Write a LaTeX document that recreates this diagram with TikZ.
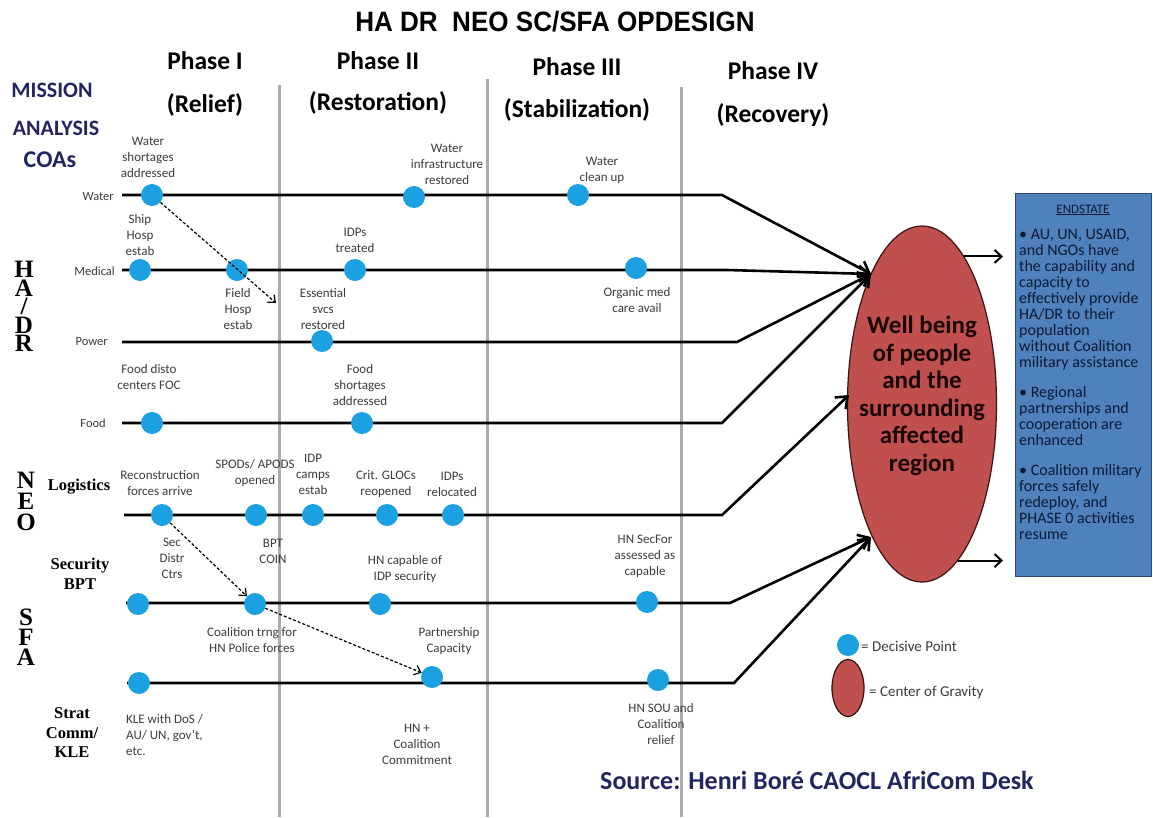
\documentclass[tikz,border=0pt]{standalone}
\usepackage{fontspec}
\usepackage{graphicx}
\setmainfont{Carlito}
\newfontfamily\timesfont{Liberation Serif}
\newfontfamily\arialfont{Liberation Sans}
\usetikzlibrary{arrows.meta,shapes.geometric}
\definecolor{dpblue}{HTML}{1BA1E2}
\definecolor{navy}{HTML}{222660}
\definecolor{cogred}{HTML}{C0504D}
\definecolor{cogedge}{HTML}{3A1212}
\definecolor{cogtext}{HTML}{1A0505}
\definecolor{esblue}{HTML}{4F81BD}
\definecolor{esedge}{HTML}{2C4A70}
\definecolor{estext}{HTML}{0E1A33}
\definecolor{phasegray}{HTML}{ABABAB}
\definecolor{lblgray}{HTML}{3C3C3C}

\begin{document}
\begin{tikzpicture}[x=1pt,y=-1pt,
  dp/.style={circle,fill=dpblue,minimum size=22pt,inner sep=0pt},
  lbl/.style={font=\fontsize{13}{16}\selectfont,text=lblgray,align=center,inner sep=0pt},
  rowname/.style={font=\fontsize{12.5}{15}\selectfont,text=lblgray,anchor=east,inner sep=0pt},
  groupname/.style={font=\timesfont\bfseries\fontsize{16.5}{19.5}\selectfont,align=center,inner sep=0pt},
  stack/.style={font=\timesfont\bfseries\fontsize{25}{18.5}\selectfont,align=center,inner sep=0pt},
  phasehead/.style={font=\bfseries\fontsize{25.5}{30}\selectfont,inner sep=0pt},
  navyhead/.style={font=\bfseries\fontsize{22}{26}\selectfont,text=navy,inner sep=0pt},
  phaseline/.style={draw=phasegray,line width=3pt},
  rowline/.style={line width=2.6pt,line join=miter,-{Straight Barb[length=10pt,width=16pt]}},
  link/.style={dash pattern=on 3pt off 2pt,line width=1.2pt,-{Straight Barb[length=6pt,width=10pt]}},
  outarrow/.style={line width=2pt,-{Straight Barb[length=7pt,width=13pt]}},
  cogshape/.style={ellipse,draw=cogedge,line width=1.2pt,fill=cogred,inner sep=0pt},
]
\fill[white] (0,0) rectangle (1153,817);
\useasboundingbox (0,0) rectangle (1153,817);

% phase separators
\draw[phaseline] (279,85) -- (279,817);
\draw[phaseline] (487,79) -- (487,817);
\draw[phaseline] (681,87) -- (681,817);

% title and headings
\node[font=\arialfont\bfseries\fontsize{28}{32}\selectfont] (title) at (555,22) {\scalebox{0.93}[1]{HA DR~~NEO SC/SFA OPDESIGN}};
\node[phasehead] (p1) at (205,61) {Phase I};
\node[phasehead] (p1s) at (205,105) {(Relief)};
\node[phasehead] (p2) at (378,61) {Phase II};
\node[phasehead] (p2s) at (378,103) {(Restoration)};
\node[phasehead] (p3) at (577,67) {Phase III};
\node[phasehead] (p3s) at (577,110) {(Stabilization)};
\node[phasehead] (p4) at (773,71) {Phase IV};
\node[phasehead] (p4s) at (773,115) {(Recovery)};

\node[navyhead] (mis) at (52,90) {MISSION};
\node[navyhead] (ana) at (56,128) {ANALYSIS};
\node[navyhead,font=\bfseries\fontsize{24}{28}\selectfont] (coa) at (50,160) {COAs};

% line-of-effort groups
\node[stack] (hadr) at (24,306.5) {H\\A\\/\\D\\R};
\node[stack,font=\timesfont\bfseries\fontsize{25}{21}\selectfont] (neo) at (26,501) {N\\E\\O};
\node[stack,font=\timesfont\bfseries\fontsize{25}{20}\selectfont] (sfa) at (26,637) {S\\F\\A};
\node[groupname] (glog) at (79,487) {Logistics};
\node[groupname] (gsec) at (80,574) {Security\\BPT};
\node[groupname] (gstr) at (72,733) {Strat\\Comm/\\KLE};

\node[rowname] (lwater) at (114,197) {Water};
\node[rowname] (lmed) at (115,271) {Medical};
\node[rowname] (lpow) at (108,342) {Power};
\node[rowname] (lfood) at (106,423) {Food};

% centre of gravity
\node[cogshape,minimum width=149pt,minimum height=356pt] (cog) at (922,404) {};
\node[font=\bfseries\fontsize{25}{27.5}\selectfont,text=cogtext,align=center] (cogtxt) at (922,396)
  {Well being\\of people\\and the\\surrounding\\affected\\region};

% row ends
\coordinate (wS) at (122,195); \coordinate (wK) at (722,195);
\coordinate (mS) at (122,270); \coordinate (mK) at (727,270);
\coordinate (pS) at (122,342); \coordinate (pK) at (737,342);
\coordinate (fS) at (122,423); \coordinate (fK) at (722,423);
\coordinate (lS) at (124,515); \coordinate (lK) at (722,515);
\coordinate (sS) at (126,603); \coordinate (sK) at (730,603);
\coordinate (kS) at (127,683); \coordinate (kK) at (734,683);
\coordinate (tipA) at (871,274);
\coordinate (tipB) at (849,395);
\coordinate (tipC) at (871,537);

\draw[rowline] (wS) -- (wK) -- (tipA);
\draw[rowline] (mS) -- (mK) -- (tipA);
\draw[rowline] (pS) -- (pK) -- (tipA);
\draw[rowline] (fS) -- (fK) -- (tipA);
\draw[rowline] (lS) -- (lK) -- (tipB);
\draw[rowline] (sS) -- (sK) -- (tipC);
\draw[rowline] (kS) -- (kK) -- (tipC);

% decisive points
\node[dp] (wa1) at (152,195) {};
\node[dp] (wa2) at (414,197) {};
\node[dp] (wa3) at (578,195) {};
\node[dp] (me1) at (140,270) {};
\node[dp] (me2) at (237,270) {};
\node[dp] (me3) at (355,270) {};
\node[dp] (me4) at (636,268) {};
\node[dp] (po1) at (322,341) {};
\node[dp] (fo1) at (152,423) {};
\node[dp] (fo2) at (362,423) {};
\node[dp] (lo1) at (162,515) {};
\node[dp] (lo2) at (256,515) {};
\node[dp] (lo3) at (313,515) {};
\node[dp] (lo4) at (387,515) {};
\node[dp] (lo5) at (453,515) {};
\node[dp] (se1) at (138,604) {};
\node[dp] (se2) at (255,604) {};
\node[dp] (se3) at (380,604) {};
\node[dp] (se4) at (647,602) {};
\node[dp] (st1) at (139,683) {};
\node[dp] (st2) at (432,677) {};
\node[dp] (st3) at (658,680) {};

% sequencing links
\coordinate (essentialEnd) at (276,303);
\draw[link] (wa1) -- (essentialEnd);
\draw[link] (lo1) -- (se2);
\draw[link] (se2) -- (st2);

% decisive point labels
\node[lbl] (t-wsa) at (148,157) {Water\\shortages\\addressed};
\node[lbl] (t-shs) at (140,235) {Ship\\Hosp\\estab};
\node[lbl] (t-wir) at (447,164) {Water\\infrastructure\\restored};
\node[lbl] (t-wcu) at (602,170) {Water\\clean up};
\node[lbl] (t-idt) at (355,240) {IDPs\\treated};
\node[lbl] (t-fhe) at (238,309) {Field\\Hosp\\estab};
\node[lbl] (t-esr) at (323,309) {Essential\\svcs\\restored};
\node[lbl] (t-omc) at (637,300) {Organic med\\care avail};
\node[lbl] (t-fdc) at (149,377) {Food disto\\centers FOC};
\node[lbl] (t-fsa) at (360,385) {Food\\shortages\\addressed};
\node[lbl] (t-rfa) at (160,483) {Reconstruction\\forces arrive};
\node[lbl] (t-spo) at (255,473) {SPODs/ APODS\\opened};
\node[lbl] (t-icp) at (313,474) {IDP\\camps\\estab};
\node[lbl] (t-cgr) at (386,484) {Crit. GLOCs\\reopened};
\node[lbl] (t-idr) at (452,484) {IDPs\\relocated};
\node[lbl] (t-sdc) at (172,558) {Sec\\Distr\\Ctrs};
\node[lbl] (t-bpt) at (273,551) {BPT\\COIN};
\node[lbl] (t-hnc) at (405,569) {HN capable of\\IDP security};
\node[lbl] (t-hns) at (645,556) {HN SecFor\\assessed as\\capable};
\node[lbl] (t-ctr) at (252,640) {Coalition trng for\\HN Police forces};
\node[lbl] (t-pc) at (449,641) {Partnership\\Capacity};
\node[lbl,align=left,anchor=north west] (t-kle) at (126,714) {KLE with DoS /\\AU/ UN, gov't,\\etc.};
\node[lbl] (t-hcc) at (417,744) {HN +\\Coalition\\Commitment};
\node[lbl] (t-sou) at (661,724) {HN SOU and\\Coalition\\relief};

% end state
\node[draw=esedge,line width=1.2pt,fill=esblue,minimum width=136pt,minimum height=383pt,inner sep=0pt,anchor=north west] (esbox) at (1015,193) {};
\node[font=\fontsize{13}{15}\selectfont,text=estext,inner sep=0pt] (eshead) at (1083,210) {\underline{ENDSTATE}};
\node[anchor=north west,align=left,font=\fontsize{16}{16}\selectfont,text=estext,inner sep=0pt] (esbody) at (1019,229)
  {•~AU, UN, USAID,\\and NGOs have\\the capability and\\capacity to\\effectively provide\\HA/DR to their\\population\\without Coalition\\military assistance\\[14pt]
   •~Regional\\partnerships and\\cooperation are\\enhanced\\[14pt]
   •~Coalition military\\forces safely\\redeploy, and\\PHASE 0 activities\\resume};

\draw[outarrow,shorten >=12pt] (cog.74.5) -- (cog.74.5 -| esbox.west);
\draw[outarrow,shorten >=12pt] (cog.283.8) -- (cog.283.8 -| esbox.west);

% legend
\node[dp] (legdp) at (848,645) {};
\node[lbl,anchor=west,font=\fontsize{15}{17}\selectfont] (legdptxt) at (861,646) {= Decisive Point};
\node[cogshape,minimum width=32pt,minimum height=57pt] (legcog) at (848,688) {};
\node[lbl,anchor=west,font=\fontsize{15}{17}\selectfont] (legcogtxt) at (869,693) {= Center of Gravity};

\node[font=\bfseries\fontsize{26}{30}\selectfont,text=navy,anchor=west,inner sep=0pt] (src) at (600,780) {Source: Henri Boré CAOCL AfriCom Desk};
\end{tikzpicture}
\end{document}
